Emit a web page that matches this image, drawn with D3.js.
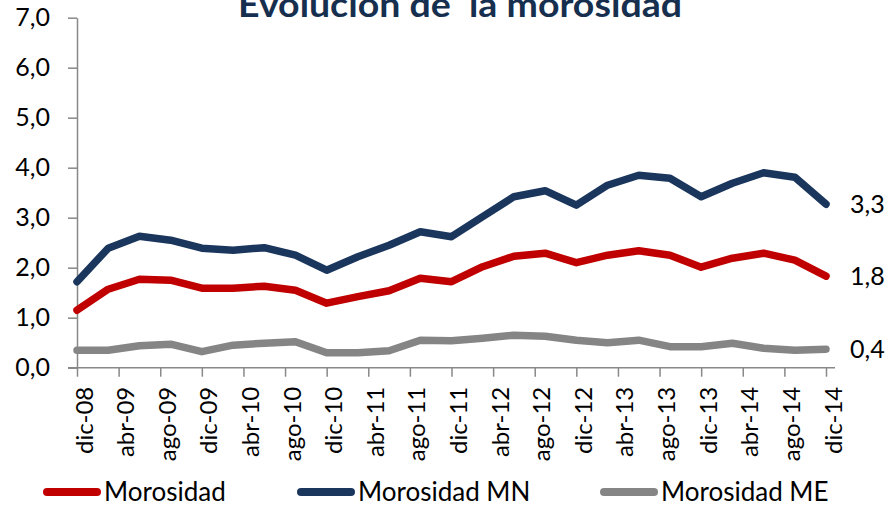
<!DOCTYPE html>
<html lang="es">
<head>
<meta charset="UTF-8">
<title>Evolución de la morosidad</title>
<script src="https://cdnjs.cloudflare.com/ajax/libs/d3/7.8.5/d3.min.js"></script>
<style>
    body { margin: 0; background: #ffffff; }
    svg { display: block; font-family: Lato, "Open Sans", sans-serif; }
</style>
</head>
<body>
<svg id="chart" width="889" height="505"></svg>
<script>
// quarterly observations, dic-08 .. dic-14
const periods = ["dic-08","mar-09","jun-09","sep-09","dic-09","mar-10","jun-10","sep-10","dic-10",
    "mar-11","jun-11","sep-11","dic-11","mar-12","jun-12","sep-12","dic-12","mar-13","jun-13","sep-13",
    "dic-13","mar-14","jun-14","sep-14","dic-14"];
const morosidad = [1.15,1.57,1.77,1.75,1.59,1.59,1.63,1.55,1.29,1.42,1.54,1.79,1.72,2.02,2.23,2.29,2.10,2.25,2.34,2.25,2.01,2.19,2.29,2.15,1.83];
const morosidadMN = [1.72,2.39,2.63,2.55,2.39,2.35,2.40,2.25,1.95,2.22,2.45,2.72,2.62,3.02,3.42,3.54,3.25,3.65,3.85,3.79,3.42,3.69,3.90,3.81,3.27];
const morosidadME = [0.35,0.35,0.44,0.47,0.32,0.45,0.49,0.52,0.30,0.30,0.34,0.55,0.54,0.59,0.65,0.63,0.55,0.50,0.55,0.42,0.42,0.49,0.39,0.35,0.37];
const tickLabels = ["dic-08","abr-09","ago-09","dic-09","abr-10","ago-10","dic-10","abr-11","ago-11","dic-11",
    "abr-12","ago-12","dic-12","abr-13","ago-13","dic-13","abr-14","ago-14","dic-14"];
const yTicks = [0,1,2,3,4,5,6,7];
const endLabels = ["1,8","3,3","0,4"];

const series = [
    { name: "Morosidad", values: morosidad, color: "#c00000" },
    { name: "Morosidad MN", values: morosidadMN, color: "#1b365d" },
    { name: "Morosidad ME", values: morosidadME, color: "#858585" }
];

const months = ["ene","feb","mar","abr","may","jun","jul","ago","sep","oct","nov","dic"];
// months elapsed since dic-08
function monthIndex(label) {
    const [m, y] = label.split("-");
    return (+y - 8) * 12 + months.indexOf(m) - 11;
}

const svg = d3.select("#chart");
const x = d3.scaleLinear().domain([0, 72]).range([77, 826]);
const y = d3.scaleLinear().domain([0, 7]).range([367.7, 17.7]);
const fmt = v => d3.format(".1f")(v).replace(".", ",");

// title (top is cut by the frame, as in the source slide)
svg.append("text")
    .attr("x", 460).attr("y", 17)
    .attr("text-anchor", "middle")
    .attr("font-size", 34).attr("font-weight", "bold")
    .attr("fill", "#172f4f")
    .style("white-space", "pre")
    .attr("textLength", 444).attr("lengthAdjust", "spacingAndGlyphs")
    .text("Evolución de  la morosidad");

// y axis
const yAxis = svg.append("g")
    .attr("transform", "translate(77,0)")
    .call(d3.axisLeft(y).tickValues(yTicks).tickSize(9).tickSizeOuter(0).tickFormat(fmt));
yAxis.select(".domain").attr("stroke", "#888").attr("stroke-width", 1.5);
yAxis.selectAll(".tick line").attr("stroke", "#888").attr("stroke-width", 1.5);
yAxis.selectAll(".tick text")
    .attr("x", -27).attr("font-size", 25).attr("fill", "#000")
    .attr("font-family", "Lato, sans-serif");

// x axis
const xAxis = svg.append("g")
    .attr("transform", `translate(0,${y(0)})`)
    .call(d3.axisBottom(x).tickValues(tickLabels.map(monthIndex)).tickSize(9).tickSizeOuter(0)
        .tickFormat((d, i) => tickLabels[i]));
xAxis.select(".domain").attr("d", "M68,0H835").attr("stroke", "#888").attr("stroke-width", 1.5);
xAxis.selectAll(".tick line").attr("stroke", "#888").attr("stroke-width", 1.5);
xAxis.selectAll(".tick text")
    .attr("font-size", 24).attr("fill", "#000").attr("font-family", "Lato, sans-serif")
    .attr("text-anchor", "end")
    .attr("dy", null).attr("y", null)
    .attr("transform", "translate(15,19) rotate(-90)");

// lines
const line = d3.line()
    .x((d, i) => x(monthIndex(periods[i])))
    .y(d => y(d));

svg.append("g").selectAll("path")
    .data([series[2], series[0], series[1]])
    .join("path")
    .attr("fill", "none")
    .attr("stroke", d => d.color)
    .attr("stroke-width", 7.5)
    .attr("stroke-linejoin", "round")
    .attr("stroke-linecap", "round")
    .attr("d", d => line(d.values));

// end-value labels
svg.append("g").selectAll("text")
    .data(series)
    .join("text")
    .attr("x", 850)
    .attr("y", d => y(d.values[d.values.length - 1]))
    .attr("dy", "0.36em")
    .attr("font-size", 25)
    .attr("fill", "#000")
    .text((d, i) => endLabels[i]);

// legend
const legendX = [43, 297, 600];
const legend = svg.append("g").selectAll("g")
    .data(series)
    .join("g")
    .attr("transform", (d, i) => `translate(${legendX[i]},492)`);
legend.append("line")
    .attr("x1", 4).attr("x2", 54)
    .attr("stroke", d => d.color)
    .attr("stroke-width", 8)
    .attr("stroke-linecap", "round");
legend.append("text")
    .attr("x", 61).attr("y", 9)
    .attr("font-size", 26)
    .attr("fill", "#000")
    .text(d => d.name);
</script>
</body>
</html>
